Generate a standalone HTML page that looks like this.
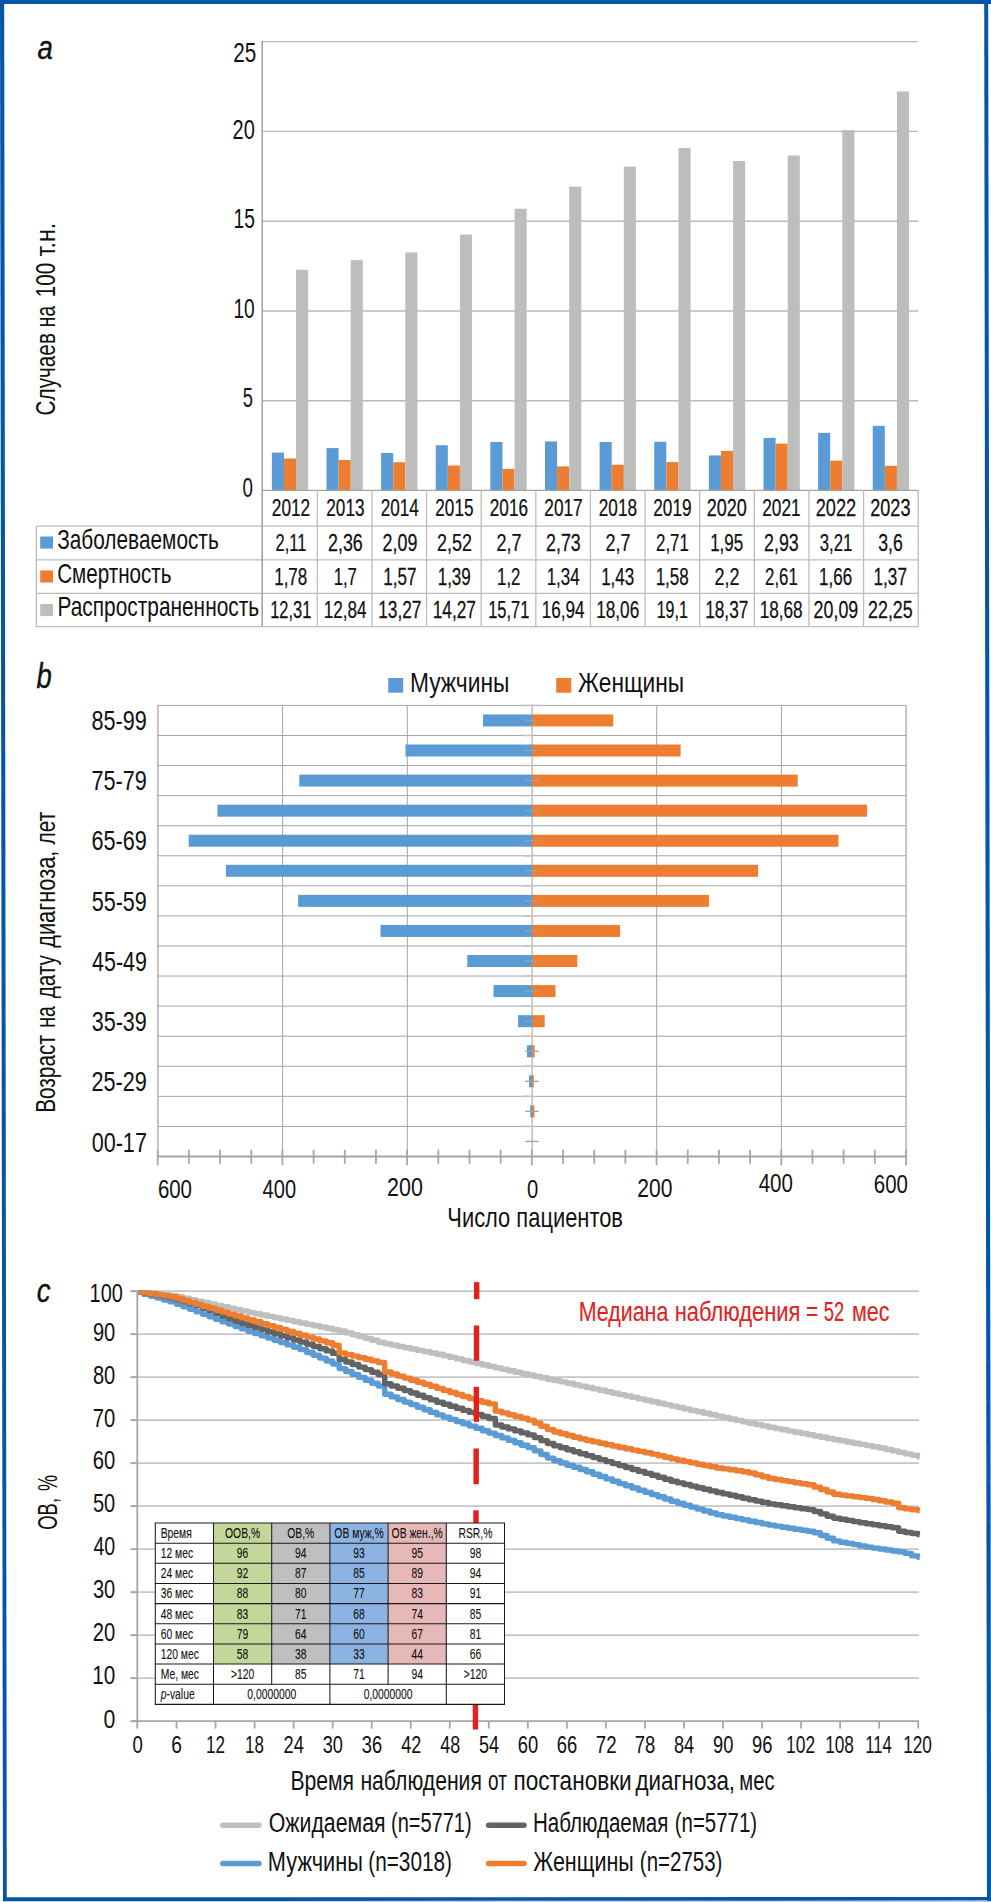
<!DOCTYPE html>
<html lang="ru"><head><meta charset="utf-8"><title>Figure</title>
<style>
html,body{margin:0;padding:0;background:#fff;}
svg{display:block;font-family:"Liberation Sans",sans-serif;}
text{font-family:"Liberation Sans",sans-serif;}
</style></head>
<body>
<svg width="991" height="1902" viewBox="0 0 991 1902">
<rect x="0" y="0" width="991" height="1902" fill="#ffffff"/>
<polygon points="0,0 991,0 991,3.9 0,4.1" fill="#0556a7"/>
<polygon points="0,0 4.2,0 6.8,1902 3.0,1902" fill="#0556a7"/>
<polygon points="984.2,0 988.2,0 991.2,1902 987.0,1902" fill="#0556a7"/>
<polygon points="3,1897.3 991,1897 991,1900.6 3,1901" fill="#0556a7"/>
<rect x="3" y="1901" width="988" height="1" fill="#c9cfdc"/>
<line x1="262.70" y1="400.80" x2="918.20" y2="400.80" stroke="#bababa" stroke-width="1.4"/>
<line x1="262.70" y1="311.00" x2="918.20" y2="311.00" stroke="#bababa" stroke-width="1.4"/>
<line x1="262.70" y1="221.20" x2="918.20" y2="221.20" stroke="#bababa" stroke-width="1.4"/>
<line x1="262.70" y1="131.40" x2="918.20" y2="131.40" stroke="#bababa" stroke-width="1.4"/>
<line x1="262.70" y1="41.60" x2="918.20" y2="41.60" stroke="#bababa" stroke-width="1.4"/>
<rect x="271.86" y="452.57" width="12.10" height="37.83" fill="#5b9bd5"/>
<rect x="283.96" y="458.48" width="12.10" height="31.92" fill="#ed7d31"/>
<rect x="296.06" y="269.68" width="12.10" height="220.72" fill="#bdbdbb"/>
<rect x="326.49" y="448.09" width="12.10" height="42.31" fill="#5b9bd5"/>
<rect x="338.59" y="459.92" width="12.10" height="30.48" fill="#ed7d31"/>
<rect x="350.69" y="260.18" width="12.10" height="230.22" fill="#bdbdbb"/>
<rect x="381.11" y="452.93" width="12.10" height="37.47" fill="#5b9bd5"/>
<rect x="393.21" y="462.25" width="12.10" height="28.15" fill="#ed7d31"/>
<rect x="405.31" y="252.47" width="12.10" height="237.93" fill="#bdbdbb"/>
<rect x="435.74" y="445.22" width="12.10" height="45.18" fill="#5b9bd5"/>
<rect x="447.84" y="465.48" width="12.10" height="24.92" fill="#ed7d31"/>
<rect x="459.94" y="234.54" width="12.10" height="255.86" fill="#bdbdbb"/>
<rect x="490.36" y="441.99" width="12.10" height="48.41" fill="#5b9bd5"/>
<rect x="502.46" y="468.88" width="12.10" height="21.52" fill="#ed7d31"/>
<rect x="514.56" y="208.72" width="12.10" height="281.68" fill="#bdbdbb"/>
<rect x="544.99" y="441.45" width="12.10" height="48.95" fill="#5b9bd5"/>
<rect x="557.09" y="466.37" width="12.10" height="24.03" fill="#ed7d31"/>
<rect x="569.19" y="186.67" width="12.10" height="303.73" fill="#bdbdbb"/>
<rect x="599.61" y="441.99" width="12.10" height="48.41" fill="#5b9bd5"/>
<rect x="611.71" y="464.76" width="12.10" height="25.64" fill="#ed7d31"/>
<rect x="623.81" y="166.58" width="12.10" height="323.82" fill="#bdbdbb"/>
<rect x="654.24" y="441.81" width="12.10" height="48.59" fill="#5b9bd5"/>
<rect x="666.34" y="462.07" width="12.10" height="28.33" fill="#ed7d31"/>
<rect x="678.44" y="147.94" width="12.10" height="342.46" fill="#bdbdbb"/>
<rect x="708.86" y="455.44" width="12.10" height="34.96" fill="#5b9bd5"/>
<rect x="720.96" y="450.95" width="12.10" height="39.45" fill="#ed7d31"/>
<rect x="733.06" y="161.03" width="12.10" height="329.37" fill="#bdbdbb"/>
<rect x="763.49" y="437.87" width="12.10" height="52.53" fill="#5b9bd5"/>
<rect x="775.59" y="443.60" width="12.10" height="46.80" fill="#ed7d31"/>
<rect x="787.69" y="155.47" width="12.10" height="334.93" fill="#bdbdbb"/>
<rect x="818.11" y="432.84" width="12.10" height="57.56" fill="#5b9bd5"/>
<rect x="830.21" y="460.64" width="12.10" height="29.76" fill="#ed7d31"/>
<rect x="842.31" y="130.19" width="12.10" height="360.21" fill="#bdbdbb"/>
<rect x="872.74" y="425.85" width="12.10" height="64.55" fill="#5b9bd5"/>
<rect x="884.84" y="465.84" width="12.10" height="24.56" fill="#ed7d31"/>
<rect x="896.94" y="91.46" width="12.10" height="398.94" fill="#bdbdbb"/>
<line x1="262.20" y1="41.00" x2="262.20" y2="490.00" stroke="#a3a3a3" stroke-width="1.6"/>
<line x1="261.70" y1="490.40" x2="918.20" y2="490.40" stroke="#a3a3a3" stroke-width="1.4"/>
<line x1="36.00" y1="526.20" x2="918.20" y2="526.20" stroke="#bcbcbc" stroke-width="1.3"/>
<line x1="36.00" y1="559.80" x2="918.20" y2="559.80" stroke="#bcbcbc" stroke-width="1.3"/>
<line x1="36.00" y1="593.40" x2="918.20" y2="593.40" stroke="#bcbcbc" stroke-width="1.3"/>
<line x1="36.00" y1="626.70" x2="918.20" y2="626.70" stroke="#bcbcbc" stroke-width="1.3"/>
<line x1="36.30" y1="526.20" x2="36.30" y2="626.70" stroke="#bcbcbc" stroke-width="1.3"/>
<line x1="262.20" y1="490.00" x2="262.20" y2="626.70" stroke="#a3a3a3" stroke-width="1.6"/>
<line x1="317.32" y1="490.00" x2="317.32" y2="626.70" stroke="#bcbcbc" stroke-width="1.3"/>
<line x1="371.95" y1="490.00" x2="371.95" y2="626.70" stroke="#bcbcbc" stroke-width="1.3"/>
<line x1="426.57" y1="490.00" x2="426.57" y2="626.70" stroke="#bcbcbc" stroke-width="1.3"/>
<line x1="481.20" y1="490.00" x2="481.20" y2="626.70" stroke="#bcbcbc" stroke-width="1.3"/>
<line x1="535.83" y1="490.00" x2="535.83" y2="626.70" stroke="#bcbcbc" stroke-width="1.3"/>
<line x1="590.45" y1="490.00" x2="590.45" y2="626.70" stroke="#bcbcbc" stroke-width="1.3"/>
<line x1="645.08" y1="490.00" x2="645.08" y2="626.70" stroke="#bcbcbc" stroke-width="1.3"/>
<line x1="699.70" y1="490.00" x2="699.70" y2="626.70" stroke="#bcbcbc" stroke-width="1.3"/>
<line x1="754.33" y1="490.00" x2="754.33" y2="626.70" stroke="#bcbcbc" stroke-width="1.3"/>
<line x1="808.95" y1="490.00" x2="808.95" y2="626.70" stroke="#bcbcbc" stroke-width="1.3"/>
<line x1="863.58" y1="490.00" x2="863.58" y2="626.70" stroke="#bcbcbc" stroke-width="1.3"/>
<line x1="918.20" y1="490.00" x2="918.20" y2="626.70" stroke="#bcbcbc" stroke-width="1.3"/>
<text transform="translate(233.27,62.10) scale(0.7662,1)" font-size="27.00" fill="#111" stroke="none">25</text>
<text transform="translate(232.60,139.00) scale(0.7407,1)" font-size="27.00" fill="#111" stroke="none">20</text>
<text transform="translate(233.46,228.00) scale(0.7110,1)" font-size="27.00" fill="#111" stroke="none">15</text>
<text transform="translate(233.47,317.90) scale(0.7074,1)" font-size="27.00" fill="#111" stroke="none">10</text>
<text transform="translate(242.87,406.80) scale(0.6784,1)" font-size="27.00" fill="#111" stroke="none">5</text>
<text transform="translate(242.55,496.50) scale(0.6944,1)" font-size="27.00" fill="#111" stroke="none">0</text>
<text transform="translate(271.82,516.00) scale(0.7342,1)" font-size="23.50" fill="#111" stroke="#111" stroke-width="0.25">2012</text>
<text transform="translate(275.59,550.80) scale(0.7000,1)" font-size="23.50" fill="#111" stroke="#111" stroke-width="0.25">2,11</text>
<text transform="translate(274.17,584.80) scale(0.7240,1)" font-size="23.50" fill="#111" stroke="#111" stroke-width="0.25">1,78</text>
<text transform="translate(270.24,618.30) scale(0.6989,1)" font-size="23.50" fill="#111" stroke="#111" stroke-width="0.25">12,31</text>
<text transform="translate(326.32,516.00) scale(0.7308,1)" font-size="23.50" fill="#111" stroke="#111" stroke-width="0.25">2013</text>
<text transform="translate(328.08,550.80) scale(0.7588,1)" font-size="23.50" fill="#111" stroke="#111" stroke-width="0.25">2,36</text>
<text transform="translate(333.63,584.80) scale(0.7146,1)" font-size="23.50" fill="#111" stroke="#111" stroke-width="0.25">1,7</text>
<text transform="translate(323.71,618.30) scale(0.7290,1)" font-size="23.50" fill="#111" stroke="#111" stroke-width="0.25">12,84</text>
<text transform="translate(380.81,516.00) scale(0.7274,1)" font-size="23.50" fill="#111" stroke="#111" stroke-width="0.25">2014</text>
<text transform="translate(382.57,550.80) scale(0.7608,1)" font-size="23.50" fill="#111" stroke="#111" stroke-width="0.25">2,09</text>
<text transform="translate(383.15,584.80) scale(0.7280,1)" font-size="23.50" fill="#111" stroke="#111" stroke-width="0.25">1,57</text>
<text transform="translate(378.19,618.30) scale(0.7352,1)" font-size="23.50" fill="#111" stroke="#111" stroke-width="0.25">13,27</text>
<text transform="translate(435.31,516.00) scale(0.7308,1)" font-size="23.50" fill="#111" stroke="#111" stroke-width="0.25">2015</text>
<text transform="translate(437.06,550.80) scale(0.7629,1)" font-size="23.50" fill="#111" stroke="#111" stroke-width="0.25">2,52</text>
<text transform="translate(437.65,584.80) scale(0.7260,1)" font-size="23.50" fill="#111" stroke="#111" stroke-width="0.25">1,39</text>
<text transform="translate(432.69,618.30) scale(0.7352,1)" font-size="23.50" fill="#111" stroke="#111" stroke-width="0.25">14,27</text>
<text transform="translate(489.80,516.00) scale(0.7308,1)" font-size="23.50" fill="#111" stroke="#111" stroke-width="0.25">2016</text>
<text transform="translate(496.50,550.80) scale(0.7647,1)" font-size="23.50" fill="#111" stroke="#111" stroke-width="0.25">2,7</text>
<text transform="translate(497.11,584.80) scale(0.7146,1)" font-size="23.50" fill="#111" stroke="#111" stroke-width="0.25">1,2</text>
<text transform="translate(488.22,618.30) scale(0.6989,1)" font-size="23.50" fill="#111" stroke="#111" stroke-width="0.25">15,71</text>
<text transform="translate(544.29,516.00) scale(0.7342,1)" font-size="23.50" fill="#111" stroke="#111" stroke-width="0.25">2017</text>
<text transform="translate(546.06,550.80) scale(0.7588,1)" font-size="23.50" fill="#111" stroke="#111" stroke-width="0.25">2,73</text>
<text transform="translate(546.65,584.80) scale(0.7201,1)" font-size="23.50" fill="#111" stroke="#111" stroke-width="0.25">1,34</text>
<text transform="translate(541.69,618.30) scale(0.7290,1)" font-size="23.50" fill="#111" stroke="#111" stroke-width="0.25">16,94</text>
<text transform="translate(598.79,516.00) scale(0.7308,1)" font-size="23.50" fill="#111" stroke="#111" stroke-width="0.25">2018</text>
<text transform="translate(605.49,550.80) scale(0.7647,1)" font-size="23.50" fill="#111" stroke="#111" stroke-width="0.25">2,7</text>
<text transform="translate(601.14,584.80) scale(0.7240,1)" font-size="23.50" fill="#111" stroke="#111" stroke-width="0.25">1,43</text>
<text transform="translate(596.18,618.30) scale(0.7321,1)" font-size="23.50" fill="#111" stroke="#111" stroke-width="0.25">18,06</text>
<text transform="translate(653.28,516.00) scale(0.7325,1)" font-size="23.50" fill="#111" stroke="#111" stroke-width="0.25">2019</text>
<text transform="translate(656.07,550.80) scale(0.7162,1)" font-size="23.50" fill="#111" stroke="#111" stroke-width="0.25">2,71</text>
<text transform="translate(655.63,584.80) scale(0.7240,1)" font-size="23.50" fill="#111" stroke="#111" stroke-width="0.25">1,58</text>
<text transform="translate(656.68,618.30) scale(0.6808,1)" font-size="23.50" fill="#111" stroke="#111" stroke-width="0.25">19,1</text>
<text transform="translate(706.77,516.00) scale(0.7677,1)" font-size="23.50" fill="#111" stroke="#111" stroke-width="0.25">2020</text>
<text transform="translate(710.13,550.80) scale(0.7240,1)" font-size="23.50" fill="#111" stroke="#111" stroke-width="0.25">1,95</text>
<text transform="translate(714.48,584.80) scale(0.7647,1)" font-size="23.50" fill="#111" stroke="#111" stroke-width="0.25">2,2</text>
<text transform="translate(705.16,618.30) scale(0.7352,1)" font-size="23.50" fill="#111" stroke="#111" stroke-width="0.25">18,37</text>
<text transform="translate(762.27,516.00) scale(0.7325,1)" font-size="23.50" fill="#111" stroke="#111" stroke-width="0.25">2021</text>
<text transform="translate(764.04,550.80) scale(0.7588,1)" font-size="23.50" fill="#111" stroke="#111" stroke-width="0.25">2,93</text>
<text transform="translate(765.06,584.80) scale(0.7162,1)" font-size="23.50" fill="#111" stroke="#111" stroke-width="0.25">2,61</text>
<text transform="translate(759.66,618.30) scale(0.7321,1)" font-size="23.50" fill="#111" stroke="#111" stroke-width="0.25">18,68</text>
<text transform="translate(815.75,516.00) scale(0.7731,1)" font-size="23.50" fill="#111" stroke="#111" stroke-width="0.25">2022</text>
<text transform="translate(819.72,550.80) scale(0.7124,1)" font-size="23.50" fill="#111" stroke="#111" stroke-width="0.25">3,21</text>
<text transform="translate(819.12,584.80) scale(0.7240,1)" font-size="23.50" fill="#111" stroke="#111" stroke-width="0.25">1,66</text>
<text transform="translate(813.58,618.30) scale(0.7603,1)" font-size="23.50" fill="#111" stroke="#111" stroke-width="0.25">20,09</text>
<text transform="translate(870.25,516.00) scale(0.7695,1)" font-size="23.50" fill="#111" stroke="#111" stroke-width="0.25">2023</text>
<text transform="translate(878.16,550.80) scale(0.7531,1)" font-size="23.50" fill="#111" stroke="#111" stroke-width="0.25">3,6</text>
<text transform="translate(873.61,584.80) scale(0.7280,1)" font-size="23.50" fill="#111" stroke="#111" stroke-width="0.25">1,37</text>
<text transform="translate(868.08,618.30) scale(0.7587,1)" font-size="23.50" fill="#111" stroke="#111" stroke-width="0.25">22,25</text>
<rect x="40.20" y="536.50" width="12.80" height="12.10" fill="#5b9bd5"/>
<rect x="40.20" y="570.40" width="12.80" height="12.10" fill="#ed7d31"/>
<rect x="40.20" y="604.00" width="12.80" height="12.10" fill="#bdbdbb"/>
<text transform="translate(57.17,548.80) scale(0.7654,1)" font-size="27.20" fill="#111" stroke="none">Заболеваемость</text>
<text transform="translate(57.17,582.70) scale(0.7582,1)" font-size="27.20" fill="#111" stroke="none">Смертность</text>
<text transform="translate(57.53,616.30) scale(0.7673,1)" font-size="27.20" fill="#111" stroke="none">Распространенность</text>
<text transform="translate(55.0,414.4) rotate(-90)" y="0.00" font-size="27.20" fill="#111" stroke="none"><tspan x="-1.04" textLength="82.37" lengthAdjust="spacingAndGlyphs">Случаев</tspan> <tspan x="87.27" textLength="21.10" lengthAdjust="spacingAndGlyphs">на</tspan> <tspan x="117.16" textLength="34.34" lengthAdjust="spacingAndGlyphs">100</tspan> <tspan x="157.85" textLength="33.86" lengthAdjust="spacingAndGlyphs">т.н.</tspan></text>
<text transform="translate(37.45,59.00) scale(0.8118,1)" font-size="34.00" fill="#111" stroke="#111" stroke-width="0.4" font-style="italic">a</text>
<line x1="157.70" y1="705.40" x2="906.00" y2="705.40" stroke="#a4a4a4" stroke-width="1.0"/>
<line x1="157.70" y1="735.47" x2="906.00" y2="735.47" stroke="#a4a4a4" stroke-width="1.0"/>
<line x1="157.70" y1="765.55" x2="906.00" y2="765.55" stroke="#a4a4a4" stroke-width="1.0"/>
<line x1="157.70" y1="795.62" x2="906.00" y2="795.62" stroke="#a4a4a4" stroke-width="1.0"/>
<line x1="157.70" y1="825.69" x2="906.00" y2="825.69" stroke="#a4a4a4" stroke-width="1.0"/>
<line x1="157.70" y1="855.77" x2="906.00" y2="855.77" stroke="#a4a4a4" stroke-width="1.0"/>
<line x1="157.70" y1="885.84" x2="906.00" y2="885.84" stroke="#a4a4a4" stroke-width="1.0"/>
<line x1="157.70" y1="915.91" x2="906.00" y2="915.91" stroke="#a4a4a4" stroke-width="1.0"/>
<line x1="157.70" y1="945.99" x2="906.00" y2="945.99" stroke="#a4a4a4" stroke-width="1.0"/>
<line x1="157.70" y1="976.06" x2="906.00" y2="976.06" stroke="#a4a4a4" stroke-width="1.0"/>
<line x1="157.70" y1="1006.13" x2="906.00" y2="1006.13" stroke="#a4a4a4" stroke-width="1.0"/>
<line x1="157.70" y1="1036.21" x2="906.00" y2="1036.21" stroke="#a4a4a4" stroke-width="1.0"/>
<line x1="157.70" y1="1066.28" x2="906.00" y2="1066.28" stroke="#a4a4a4" stroke-width="1.0"/>
<line x1="157.70" y1="1096.35" x2="906.00" y2="1096.35" stroke="#a4a4a4" stroke-width="1.0"/>
<line x1="157.70" y1="1126.43" x2="906.00" y2="1126.43" stroke="#a4a4a4" stroke-width="1.0"/>
<line x1="157.90" y1="705.40" x2="157.90" y2="1156.50" stroke="#a4a4a4" stroke-width="1.2"/>
<line x1="282.60" y1="705.40" x2="282.60" y2="1156.50" stroke="#a4a4a4" stroke-width="1.0"/>
<line x1="407.30" y1="705.40" x2="407.30" y2="1156.50" stroke="#a4a4a4" stroke-width="1.0"/>
<line x1="656.70" y1="705.40" x2="656.70" y2="1156.50" stroke="#a4a4a4" stroke-width="1.0"/>
<line x1="781.40" y1="705.40" x2="781.40" y2="1156.50" stroke="#a4a4a4" stroke-width="1.0"/>
<line x1="906.10" y1="705.40" x2="906.10" y2="1156.50" stroke="#a4a4a4" stroke-width="1.2"/>
<line x1="532.20" y1="705.40" x2="532.20" y2="1156.50" stroke="#c2c2c2" stroke-width="1.6"/>
<rect x="483.00" y="714.44" width="49.00" height="12.00" fill="#5b9bd5"/>
<rect x="532.00" y="714.44" width="81.20" height="12.00" fill="#ed7d31"/>
<rect x="405.50" y="744.51" width="126.50" height="12.00" fill="#5b9bd5"/>
<rect x="532.00" y="744.51" width="148.60" height="12.00" fill="#ed7d31"/>
<rect x="299.30" y="774.58" width="232.70" height="12.00" fill="#5b9bd5"/>
<rect x="532.00" y="774.58" width="265.70" height="12.00" fill="#ed7d31"/>
<rect x="217.40" y="804.66" width="314.60" height="12.00" fill="#5b9bd5"/>
<rect x="532.00" y="804.66" width="335.10" height="12.00" fill="#ed7d31"/>
<rect x="188.70" y="834.73" width="343.30" height="12.00" fill="#5b9bd5"/>
<rect x="532.00" y="834.73" width="306.50" height="12.00" fill="#ed7d31"/>
<rect x="225.90" y="864.80" width="306.10" height="12.00" fill="#5b9bd5"/>
<rect x="532.00" y="864.80" width="226.10" height="12.00" fill="#ed7d31"/>
<rect x="298.10" y="894.88" width="233.90" height="12.00" fill="#5b9bd5"/>
<rect x="532.00" y="894.88" width="176.90" height="12.00" fill="#ed7d31"/>
<rect x="380.50" y="924.95" width="151.50" height="12.00" fill="#5b9bd5"/>
<rect x="532.00" y="924.95" width="88.10" height="12.00" fill="#ed7d31"/>
<rect x="467.30" y="955.02" width="64.70" height="12.00" fill="#5b9bd5"/>
<rect x="532.00" y="955.02" width="45.30" height="12.00" fill="#ed7d31"/>
<rect x="493.50" y="985.10" width="38.50" height="12.00" fill="#5b9bd5"/>
<rect x="532.00" y="985.10" width="23.50" height="12.00" fill="#ed7d31"/>
<rect x="518.10" y="1015.17" width="13.90" height="12.00" fill="#5b9bd5"/>
<rect x="532.00" y="1015.17" width="12.70" height="12.00" fill="#ed7d31"/>
<rect x="526.90" y="1045.24" width="5.10" height="12.00" fill="#5b9bd5"/>
<rect x="532.00" y="1045.24" width="2.60" height="12.00" fill="#ed7d31"/>
<rect x="529.10" y="1075.32" width="2.90" height="12.00" fill="#5b9bd5"/>
<rect x="532.00" y="1075.32" width="1.80" height="12.00" fill="#ed7d31"/>
<rect x="530.30" y="1105.39" width="1.70" height="12.00" fill="#5b9bd5"/>
<rect x="532.00" y="1105.39" width="2.40" height="12.00" fill="#ed7d31"/>
<line x1="522.70" y1="705.40" x2="539.00" y2="705.40" stroke="#c4c4c4" stroke-width="1.6"/>
<line x1="525.10" y1="720.44" x2="538.70" y2="720.44" stroke="#a2a2a2" stroke-width="1.3"/>
<line x1="522.70" y1="735.47" x2="532.00" y2="735.47" stroke="#c4c4c4" stroke-width="1.6"/>
<line x1="525.10" y1="750.51" x2="538.70" y2="750.51" stroke="#a2a2a2" stroke-width="1.3"/>
<line x1="522.70" y1="765.55" x2="532.00" y2="765.55" stroke="#c4c4c4" stroke-width="1.6"/>
<line x1="525.10" y1="780.58" x2="538.70" y2="780.58" stroke="#a2a2a2" stroke-width="1.3"/>
<line x1="522.70" y1="795.62" x2="532.00" y2="795.62" stroke="#c4c4c4" stroke-width="1.6"/>
<line x1="525.10" y1="810.66" x2="538.70" y2="810.66" stroke="#a2a2a2" stroke-width="1.3"/>
<line x1="522.70" y1="825.69" x2="532.00" y2="825.69" stroke="#c4c4c4" stroke-width="1.6"/>
<line x1="525.10" y1="840.73" x2="538.70" y2="840.73" stroke="#a2a2a2" stroke-width="1.3"/>
<line x1="522.70" y1="855.77" x2="532.00" y2="855.77" stroke="#c4c4c4" stroke-width="1.6"/>
<line x1="525.10" y1="870.80" x2="538.70" y2="870.80" stroke="#a2a2a2" stroke-width="1.3"/>
<line x1="522.70" y1="885.84" x2="532.00" y2="885.84" stroke="#c4c4c4" stroke-width="1.6"/>
<line x1="525.10" y1="900.88" x2="538.70" y2="900.88" stroke="#a2a2a2" stroke-width="1.3"/>
<line x1="522.70" y1="915.91" x2="532.00" y2="915.91" stroke="#c4c4c4" stroke-width="1.6"/>
<line x1="525.10" y1="930.95" x2="538.70" y2="930.95" stroke="#a2a2a2" stroke-width="1.3"/>
<line x1="522.70" y1="945.99" x2="532.00" y2="945.99" stroke="#c4c4c4" stroke-width="1.6"/>
<line x1="525.10" y1="961.02" x2="538.70" y2="961.02" stroke="#a2a2a2" stroke-width="1.3"/>
<line x1="522.70" y1="976.06" x2="532.00" y2="976.06" stroke="#c4c4c4" stroke-width="1.6"/>
<line x1="525.10" y1="991.10" x2="538.70" y2="991.10" stroke="#a2a2a2" stroke-width="1.3"/>
<line x1="522.70" y1="1006.13" x2="532.00" y2="1006.13" stroke="#c4c4c4" stroke-width="1.6"/>
<line x1="525.10" y1="1021.17" x2="538.70" y2="1021.17" stroke="#a2a2a2" stroke-width="1.3"/>
<line x1="522.70" y1="1036.21" x2="532.00" y2="1036.21" stroke="#c4c4c4" stroke-width="1.6"/>
<line x1="525.10" y1="1051.24" x2="538.70" y2="1051.24" stroke="#a2a2a2" stroke-width="1.3"/>
<line x1="522.70" y1="1066.28" x2="532.00" y2="1066.28" stroke="#c4c4c4" stroke-width="1.6"/>
<line x1="525.10" y1="1081.32" x2="538.70" y2="1081.32" stroke="#a2a2a2" stroke-width="1.3"/>
<line x1="522.70" y1="1096.35" x2="532.00" y2="1096.35" stroke="#c4c4c4" stroke-width="1.6"/>
<line x1="525.10" y1="1111.39" x2="538.70" y2="1111.39" stroke="#a2a2a2" stroke-width="1.3"/>
<line x1="522.70" y1="1126.43" x2="532.00" y2="1126.43" stroke="#c4c4c4" stroke-width="1.6"/>
<line x1="525.10" y1="1141.46" x2="538.70" y2="1141.46" stroke="#a2a2a2" stroke-width="1.3"/>
<line x1="157.20" y1="1156.50" x2="906.50" y2="1156.50" stroke="#a6a6a6" stroke-width="2"/>
<line x1="157.70" y1="1149.70" x2="157.70" y2="1165.30" stroke="#a6a6a6" stroke-width="1.8"/>
<line x1="188.88" y1="1149.70" x2="188.88" y2="1163.70" stroke="#a6a6a6" stroke-width="1.8"/>
<line x1="220.06" y1="1149.70" x2="220.06" y2="1163.70" stroke="#a6a6a6" stroke-width="1.8"/>
<line x1="251.24" y1="1149.70" x2="251.24" y2="1163.70" stroke="#a6a6a6" stroke-width="1.8"/>
<line x1="282.42" y1="1149.70" x2="282.42" y2="1165.30" stroke="#a6a6a6" stroke-width="1.8"/>
<line x1="313.60" y1="1149.70" x2="313.60" y2="1163.70" stroke="#a6a6a6" stroke-width="1.8"/>
<line x1="344.77" y1="1149.70" x2="344.77" y2="1163.70" stroke="#a6a6a6" stroke-width="1.8"/>
<line x1="375.95" y1="1149.70" x2="375.95" y2="1163.70" stroke="#a6a6a6" stroke-width="1.8"/>
<line x1="407.13" y1="1149.70" x2="407.13" y2="1165.30" stroke="#a6a6a6" stroke-width="1.8"/>
<line x1="438.31" y1="1149.70" x2="438.31" y2="1163.70" stroke="#a6a6a6" stroke-width="1.8"/>
<line x1="469.49" y1="1149.70" x2="469.49" y2="1163.70" stroke="#a6a6a6" stroke-width="1.8"/>
<line x1="500.67" y1="1149.70" x2="500.67" y2="1163.70" stroke="#a6a6a6" stroke-width="1.8"/>
<line x1="531.85" y1="1149.70" x2="531.85" y2="1165.30" stroke="#a6a6a6" stroke-width="1.8"/>
<line x1="563.03" y1="1149.70" x2="563.03" y2="1163.70" stroke="#a6a6a6" stroke-width="1.8"/>
<line x1="594.21" y1="1149.70" x2="594.21" y2="1163.70" stroke="#a6a6a6" stroke-width="1.8"/>
<line x1="625.39" y1="1149.70" x2="625.39" y2="1163.70" stroke="#a6a6a6" stroke-width="1.8"/>
<line x1="656.57" y1="1149.70" x2="656.57" y2="1165.30" stroke="#a6a6a6" stroke-width="1.8"/>
<line x1="687.75" y1="1149.70" x2="687.75" y2="1163.70" stroke="#a6a6a6" stroke-width="1.8"/>
<line x1="718.92" y1="1149.70" x2="718.92" y2="1163.70" stroke="#a6a6a6" stroke-width="1.8"/>
<line x1="750.10" y1="1149.70" x2="750.10" y2="1163.70" stroke="#a6a6a6" stroke-width="1.8"/>
<line x1="781.28" y1="1149.70" x2="781.28" y2="1165.30" stroke="#a6a6a6" stroke-width="1.8"/>
<line x1="812.46" y1="1149.70" x2="812.46" y2="1163.70" stroke="#a6a6a6" stroke-width="1.8"/>
<line x1="843.64" y1="1149.70" x2="843.64" y2="1163.70" stroke="#a6a6a6" stroke-width="1.8"/>
<line x1="874.82" y1="1149.70" x2="874.82" y2="1163.70" stroke="#a6a6a6" stroke-width="1.8"/>
<line x1="906.00" y1="1149.70" x2="906.00" y2="1165.30" stroke="#a6a6a6" stroke-width="1.8"/>
<text transform="translate(91.53,730.00) scale(0.8068,1)" font-size="26.80" fill="#111" stroke="none">85-99</text>
<text transform="translate(91.42,790.20) scale(0.8085,1)" font-size="26.80" fill="#111" stroke="none">75-79</text>
<text transform="translate(91.42,849.50) scale(0.8085,1)" font-size="26.80" fill="#111" stroke="none">65-69</text>
<text transform="translate(91.64,910.50) scale(0.8052,1)" font-size="26.80" fill="#111" stroke="none">55-59</text>
<text transform="translate(92.07,970.90) scale(0.7987,1)" font-size="26.80" fill="#111" stroke="none">45-49</text>
<text transform="translate(91.64,1030.90) scale(0.8052,1)" font-size="26.80" fill="#111" stroke="none">35-39</text>
<text transform="translate(91.42,1091.00) scale(0.8085,1)" font-size="26.80" fill="#111" stroke="none">25-29</text>
<text transform="translate(91.64,1151.90) scale(0.8068,1)" font-size="26.80" fill="#111" stroke="none">00-17</text>
<text transform="translate(157.88,1197.50) scale(0.7803,1)" font-size="26.20" fill="#111" stroke="none">600</text>
<text transform="translate(262.60,1197.50) scale(0.7657,1)" font-size="26.20" fill="#111" stroke="none">400</text>
<text transform="translate(387.03,1196.40) scale(0.8189,1)" font-size="26.20" fill="#111" stroke="none">200</text>
<text transform="translate(527.09,1198.40) scale(0.7713,1)" font-size="26.20" fill="#111" stroke="none">0</text>
<text transform="translate(637.25,1197.40) scale(0.8044,1)" font-size="26.20" fill="#111" stroke="none">200</text>
<text transform="translate(758.69,1192.40) scale(0.7823,1)" font-size="26.20" fill="#111" stroke="none">400</text>
<text transform="translate(873.78,1192.80) scale(0.7803,1)" font-size="26.20" fill="#111" stroke="none">600</text>
<text transform="translate(447.35,1226.70) scale(0.7849,1)" font-size="27.90" fill="#111" stroke="none">Число пациентов</text>
<text transform="translate(55.2,1111.2) rotate(-90)" y="0.00" font-size="27.30" fill="#111" stroke="none"><tspan x="-1.66" textLength="77.79" lengthAdjust="spacingAndGlyphs">Возраст</tspan> <tspan x="83.53" textLength="21.63" lengthAdjust="spacingAndGlyphs">на</tspan> <tspan x="112.99" textLength="43.15" lengthAdjust="spacingAndGlyphs">дату</tspan> <tspan x="163.38" textLength="97.23" lengthAdjust="spacingAndGlyphs">диагноза,</tspan> <tspan x="266.70" textLength="32.81" lengthAdjust="spacingAndGlyphs">лет</tspan></text>
<rect x="388.20" y="678.00" width="15.00" height="14.70" fill="#5b9bd5"/>
<rect x="556.20" y="678.00" width="15.10" height="14.70" fill="#ed7d31"/>
<text transform="translate(409.98,692.40) scale(0.8261,1)" font-size="27.60" fill="#111" stroke="none">Мужчины</text>
<text transform="translate(578.06,692.40) scale(0.8233,1)" font-size="27.60" fill="#111" stroke="none">Женщины</text>
<text transform="translate(36.59,688.10) scale(0.7733,1)" font-size="35.50" fill="#111" stroke="#111" stroke-width="0.4" font-style="italic">b</text>
<line x1="131.20" y1="1678.20" x2="919.00" y2="1678.20" stroke="#c6c6c6" stroke-width="1.7"/>
<line x1="131.20" y1="1635.20" x2="919.00" y2="1635.20" stroke="#c6c6c6" stroke-width="1.7"/>
<line x1="131.20" y1="1592.20" x2="919.00" y2="1592.20" stroke="#c6c6c6" stroke-width="1.7"/>
<line x1="131.20" y1="1549.20" x2="919.00" y2="1549.20" stroke="#c6c6c6" stroke-width="1.7"/>
<line x1="131.20" y1="1506.20" x2="919.00" y2="1506.20" stroke="#c6c6c6" stroke-width="1.7"/>
<line x1="131.20" y1="1463.20" x2="919.00" y2="1463.20" stroke="#c6c6c6" stroke-width="1.7"/>
<line x1="131.20" y1="1420.20" x2="919.00" y2="1420.20" stroke="#c6c6c6" stroke-width="1.7"/>
<line x1="131.20" y1="1377.20" x2="919.00" y2="1377.20" stroke="#c6c6c6" stroke-width="1.7"/>
<line x1="131.20" y1="1334.20" x2="919.00" y2="1334.20" stroke="#c6c6c6" stroke-width="1.7"/>
<line x1="131.20" y1="1291.20" x2="919.00" y2="1291.20" stroke="#c6c6c6" stroke-width="1.7"/>
<clipPath id="cc"><rect x="137.3" y="1290.6000000000001" width="782.9000000000001" height="440"/></clipPath>
<path d="M137.5,1291.6H144.0V1292.5H150.5V1293.2H157.0V1294.0H163.5V1294.7H170.0V1295.4H176.5V1296.7H183.0V1298.2H189.5V1299.6H196.1V1301.1H202.6V1302.5H209.1V1304.0H215.6V1305.4H222.1V1306.8H228.6V1308.3H235.1V1309.7H241.6V1311.0H248.1V1312.4H254.6V1313.7H261.1V1315.0H267.6V1316.4H274.1V1317.7H280.6V1319.0H287.1V1320.4H293.6V1321.7H300.1V1323.0H306.7V1324.4H313.2V1325.7H319.7V1327.0H326.2V1328.3H332.7V1329.7H339.2V1331.0H345.7V1332.9H352.2V1334.7H358.7V1336.6H365.2V1338.5H371.7V1340.3H378.2V1342.2H384.7V1343.8H391.2V1345.1H397.7V1346.4H404.2V1347.7H410.7V1349.0H417.3V1350.4H423.8V1351.7H430.3V1353.0H436.8V1354.3H443.3V1355.9H449.8V1357.4H456.3V1358.9H462.8V1360.5H469.3V1362.0H475.8V1363.5H482.3V1365.0H488.8V1366.4H495.3V1367.9H501.8V1369.3H508.3V1370.7H514.8V1372.2H521.3V1373.6H527.9V1375.0H534.4V1376.4H540.9V1377.8H547.4V1379.2H553.9V1380.6H560.4V1381.9H566.9V1383.3H573.4V1384.7H579.9V1386.1H586.4V1387.5H592.9V1388.9H599.4V1390.3H605.9V1391.7H612.4V1393.2H618.9V1394.6H625.4V1396.0H631.9V1397.4H638.4V1398.9H645.0V1400.3H651.5V1401.7H658.0V1403.2H664.5V1404.6H671.0V1406.1H677.5V1407.5H684.0V1408.9H690.5V1410.4H697.0V1411.8H703.5V1413.2H710.0V1414.7H716.5V1416.1H723.0V1417.5H729.5V1419.0H736.0V1420.4H742.5V1421.8H749.0V1423.2H755.6V1424.5H762.1V1425.9H768.6V1427.3H775.1V1428.6H781.6V1429.8H788.1V1431.1H794.6V1432.3H801.1V1433.5H807.6V1434.8H814.1V1436.0H820.6V1437.3H827.1V1438.5H833.6V1439.7H840.1V1440.8H846.6V1442.0H853.1V1443.2H859.6V1444.4H866.2V1445.6H872.7V1446.7H879.2V1448.0H885.7V1449.5H892.2V1450.9H898.7V1452.4H905.2V1453.9H911.7V1455.3H918.2V1456.8H919.6" fill="none" stroke="#bfbfbd" stroke-width="5.4" stroke-linejoin="round" clip-path="url(#cc)"/>
<path d="M137.5,1292.2H144.0V1294.4H150.5V1296.3H157.0V1298.1H163.5V1300.0H170.0V1301.9H176.5V1304.3H183.0V1306.7H189.5V1309.2H196.1V1311.7H202.6V1314.2H209.1V1316.7H215.6V1319.2H222.1V1321.7H228.6V1324.1H235.1V1326.6H241.6V1328.9H248.1V1331.2H254.6V1333.5H261.1V1335.8H267.6V1338.1H274.1V1340.3H280.6V1342.6H287.1V1344.9H293.6V1347.2H300.1V1349.6H306.7V1352.5H313.2V1355.3H319.7V1358.1H326.2V1361.0H332.7V1364.0H339.2V1368.6H345.7V1371.5H352.2V1374.4H358.7V1377.4H365.2V1380.3H371.7V1383.2H378.2V1386.1H384.7V1394.3H391.2V1396.9H397.7V1399.5H404.2V1402.1H410.7V1404.6H417.3V1407.2H423.8V1409.8H430.3V1412.4H436.8V1414.9H443.3V1417.1H449.8V1419.4H456.3V1421.6H462.8V1423.8H469.3V1426.1H475.8V1428.3H482.3V1430.7H488.8V1433.1H495.3V1435.5H501.8V1437.9H508.3V1440.4H514.8V1442.8H521.3V1445.2H527.9V1447.6H534.4V1450.9H540.9V1454.5H547.4V1458.1H553.9V1460.8H560.4V1463.0H566.9V1465.2H573.4V1467.3H579.9V1469.5H586.4V1471.8H592.9V1474.2H599.4V1476.5H605.9V1478.9H612.4V1481.2H618.9V1483.6H625.4V1485.8H631.9V1488.0H638.4V1490.2H645.0V1492.4H651.5V1494.6H658.0V1496.8H664.5V1499.0H671.0V1501.3H677.5V1503.2H684.0V1505.2H690.5V1507.1H697.0V1509.1H703.5V1511.0H710.0V1513.0H716.5V1514.7H723.0V1516.0H729.5V1517.3H736.0V1518.6H742.5V1519.9H749.0V1521.2H755.6V1522.5H762.1V1523.9H768.6V1525.1H775.1V1526.1H781.6V1527.2H788.1V1528.2H794.6V1529.2H801.1V1530.2H807.6V1531.3H814.1V1532.8H820.6V1535.5H827.1V1538.3H833.6V1540.9H840.1V1542.2H846.6V1543.4H853.1V1544.6H859.6V1545.9H866.2V1547.1H872.7V1548.1H879.2V1549.0H885.7V1550.0H892.2V1551.0H898.7V1551.9H905.2V1553.4H911.7V1555.9H918.2V1557.2H919.6" fill="none" stroke="#5b9bd5" stroke-width="5.4" stroke-linejoin="round" clip-path="url(#cc)"/>
<path d="M137.5,1291.9H144.0V1293.2H150.5V1294.3H157.0V1295.5H163.5V1296.6H170.0V1297.8H176.5V1299.6H183.0V1301.6H189.5V1303.6H196.1V1305.6H202.6V1308.0H209.1V1310.6H215.6V1313.3H222.1V1316.0H228.6V1318.7H235.1V1321.3H241.6V1323.4H248.1V1325.5H254.6V1327.5H261.1V1329.6H267.6V1331.7H274.1V1333.7H280.6V1335.8H287.1V1337.9H293.6V1340.0H300.1V1342.1H306.7V1344.3H313.2V1346.5H319.7V1348.7H326.2V1350.9H332.7V1353.4H339.2V1359.4H345.7V1362.0H352.2V1364.5H358.7V1367.1H365.2V1369.6H371.7V1372.2H378.2V1374.7H384.7V1383.7H391.2V1386.0H397.7V1388.3H404.2V1390.6H410.7V1393.0H417.3V1395.3H423.8V1397.6H430.3V1399.9H436.8V1402.2H443.3V1404.2H449.8V1406.3H456.3V1408.3H462.8V1410.4H469.3V1412.4H475.8V1414.5H482.3V1416.5H488.8V1418.5H495.3V1425.0H501.8V1427.0H508.3V1428.9H514.8V1430.9H521.3V1432.9H527.9V1434.9H534.4V1437.6H540.9V1440.6H547.4V1443.5H553.9V1445.9H560.4V1447.8H566.9V1449.8H573.4V1451.7H579.9V1453.7H586.4V1455.6H592.9V1457.6H599.4V1459.6H605.9V1461.6H612.4V1463.6H618.9V1465.6H625.4V1467.5H631.9V1469.5H638.4V1471.4H645.0V1473.4H651.5V1475.3H658.0V1477.3H664.5V1479.2H671.0V1481.2H677.5V1482.9H684.0V1484.5H690.5V1486.1H697.0V1487.7H703.5V1489.3H710.0V1490.9H716.5V1492.5H723.0V1493.9H729.5V1495.3H736.0V1496.8H742.5V1498.2H749.0V1499.7H755.6V1501.1H762.1V1502.5H768.6V1503.9H775.1V1504.8H781.6V1505.8H788.1V1506.8H794.6V1507.7H801.1V1508.7H807.6V1509.6H814.1V1511.5H820.6V1513.9H827.1V1516.3H833.6V1518.2H840.1V1519.3H846.6V1520.4H853.1V1521.6H859.6V1522.7H866.2V1523.8H872.7V1524.8H879.2V1525.8H885.7V1526.8H892.2V1527.8H898.7V1531.2H905.2V1532.5H911.7V1533.5H918.2V1534.6H919.6" fill="none" stroke="#636363" stroke-width="5.4" stroke-linejoin="round" clip-path="url(#cc)"/>
<path d="M137.5,1291.8H144.0V1292.9H150.5V1293.9H157.0V1294.9H163.5V1295.8H170.0V1296.8H176.5V1298.5H183.0V1300.5H189.5V1302.4H196.1V1304.4H202.6V1306.3H209.1V1308.3H215.6V1310.2H222.1V1312.1H228.6V1314.1H235.1V1316.0H241.6V1317.9H248.1V1319.9H254.6V1321.8H261.1V1323.7H267.6V1325.6H274.1V1327.5H280.6V1329.4H287.1V1331.4H293.6V1333.3H300.1V1335.2H306.7V1337.1H313.2V1339.0H319.7V1340.9H326.2V1342.8H332.7V1345.2H339.2V1352.9H345.7V1354.5H352.2V1356.1H358.7V1357.7H365.2V1359.3H371.7V1360.9H378.2V1362.5H384.7V1372.0H391.2V1374.0H397.7V1376.1H404.2V1378.1H410.7V1380.2H417.3V1382.2H423.8V1384.3H430.3V1386.3H436.8V1388.4H443.3V1390.4H449.8V1392.5H456.3V1394.5H462.8V1396.6H469.3V1398.6H475.8V1400.7H482.3V1402.3H488.8V1403.9H495.3V1411.1H501.8V1412.9H508.3V1414.7H514.8V1416.5H521.3V1418.3H527.9V1420.1H534.4V1423.1H540.9V1426.3H547.4V1429.6H553.9V1432.0H560.4V1433.7H566.9V1435.5H573.4V1437.2H579.9V1438.9H586.4V1440.5H592.9V1441.9H599.4V1443.3H605.9V1444.7H612.4V1446.1H618.9V1447.5H625.4V1448.8H631.9V1450.1H638.4V1451.4H645.0V1452.7H651.5V1454.1H658.0V1455.7H664.5V1457.3H671.0V1458.9H677.5V1460.3H684.0V1461.6H690.5V1462.9H697.0V1464.2H703.5V1465.5H710.0V1466.8H716.5V1468.0H723.0V1468.9H729.5V1469.8H736.0V1470.8H742.5V1471.7H749.0V1473.0H755.6V1474.9H762.1V1476.8H768.6V1478.5H775.1V1479.5H781.6V1480.6H788.1V1481.6H794.6V1482.7H801.1V1483.7H807.6V1484.7H814.1V1487.1H820.6V1489.5H827.1V1492.0H833.6V1494.3H840.1V1495.1H846.6V1495.9H853.1V1496.7H859.6V1497.6H866.2V1498.4H872.7V1499.5H879.2V1500.8H885.7V1502.0H892.2V1503.3H898.7V1507.7H905.2V1508.9H911.7V1509.7H918.2V1510.6H919.6" fill="none" stroke="#ed7d31" stroke-width="5.4" stroke-linejoin="round" clip-path="url(#cc)"/>
<line x1="130.40" y1="1721.20" x2="137.30" y2="1721.20" stroke="#a6a6a6" stroke-width="1.8"/>
<line x1="130.40" y1="1678.20" x2="137.30" y2="1678.20" stroke="#a6a6a6" stroke-width="1.8"/>
<line x1="130.40" y1="1635.20" x2="137.30" y2="1635.20" stroke="#a6a6a6" stroke-width="1.8"/>
<line x1="130.40" y1="1592.20" x2="137.30" y2="1592.20" stroke="#a6a6a6" stroke-width="1.8"/>
<line x1="130.40" y1="1549.20" x2="137.30" y2="1549.20" stroke="#a6a6a6" stroke-width="1.8"/>
<line x1="130.40" y1="1506.20" x2="137.30" y2="1506.20" stroke="#a6a6a6" stroke-width="1.8"/>
<line x1="130.40" y1="1463.20" x2="137.30" y2="1463.20" stroke="#a6a6a6" stroke-width="1.8"/>
<line x1="130.40" y1="1420.20" x2="137.30" y2="1420.20" stroke="#a6a6a6" stroke-width="1.8"/>
<line x1="130.40" y1="1377.20" x2="137.30" y2="1377.20" stroke="#a6a6a6" stroke-width="1.8"/>
<line x1="130.40" y1="1334.20" x2="137.30" y2="1334.20" stroke="#a6a6a6" stroke-width="1.8"/>
<line x1="130.40" y1="1291.20" x2="137.30" y2="1291.20" stroke="#a6a6a6" stroke-width="1.8"/>
<line x1="137.30" y1="1290.40" x2="137.30" y2="1728.60" stroke="#a6a6a6" stroke-width="1.8"/>
<line x1="131.20" y1="1721.20" x2="919.00" y2="1721.20" stroke="#a6a6a6" stroke-width="1.8"/>
<line x1="176.53" y1="1721.20" x2="176.53" y2="1728.60" stroke="#a6a6a6" stroke-width="1.8"/>
<line x1="215.57" y1="1721.20" x2="215.57" y2="1728.60" stroke="#a6a6a6" stroke-width="1.8"/>
<line x1="254.61" y1="1721.20" x2="254.61" y2="1728.60" stroke="#a6a6a6" stroke-width="1.8"/>
<line x1="293.64" y1="1721.20" x2="293.64" y2="1728.60" stroke="#a6a6a6" stroke-width="1.8"/>
<line x1="332.68" y1="1721.20" x2="332.68" y2="1728.60" stroke="#a6a6a6" stroke-width="1.8"/>
<line x1="371.71" y1="1721.20" x2="371.71" y2="1728.60" stroke="#a6a6a6" stroke-width="1.8"/>
<line x1="410.75" y1="1721.20" x2="410.75" y2="1728.60" stroke="#a6a6a6" stroke-width="1.8"/>
<line x1="449.78" y1="1721.20" x2="449.78" y2="1728.60" stroke="#a6a6a6" stroke-width="1.8"/>
<line x1="488.81" y1="1721.20" x2="488.81" y2="1728.60" stroke="#a6a6a6" stroke-width="1.8"/>
<line x1="527.85" y1="1721.20" x2="527.85" y2="1728.60" stroke="#a6a6a6" stroke-width="1.8"/>
<line x1="566.88" y1="1721.20" x2="566.88" y2="1728.60" stroke="#a6a6a6" stroke-width="1.8"/>
<line x1="605.92" y1="1721.20" x2="605.92" y2="1728.60" stroke="#a6a6a6" stroke-width="1.8"/>
<line x1="644.96" y1="1721.20" x2="644.96" y2="1728.60" stroke="#a6a6a6" stroke-width="1.8"/>
<line x1="683.99" y1="1721.20" x2="683.99" y2="1728.60" stroke="#a6a6a6" stroke-width="1.8"/>
<line x1="723.02" y1="1721.20" x2="723.02" y2="1728.60" stroke="#a6a6a6" stroke-width="1.8"/>
<line x1="762.06" y1="1721.20" x2="762.06" y2="1728.60" stroke="#a6a6a6" stroke-width="1.8"/>
<line x1="801.10" y1="1721.20" x2="801.10" y2="1728.60" stroke="#a6a6a6" stroke-width="1.8"/>
<line x1="840.13" y1="1721.20" x2="840.13" y2="1728.60" stroke="#a6a6a6" stroke-width="1.8"/>
<line x1="879.17" y1="1721.20" x2="879.17" y2="1728.60" stroke="#a6a6a6" stroke-width="1.8"/>
<line x1="918.20" y1="1721.20" x2="918.20" y2="1728.60" stroke="#a6a6a6" stroke-width="1.8"/>
<rect x="474.00" y="1282.10" width="5.40" height="17.10" fill="#e2201e"/>
<rect x="473.84" y="1325.50" width="5.40" height="35.30" fill="#e2201e"/>
<rect x="473.66" y="1386.80" width="5.40" height="35.00" fill="#e2201e"/>
<rect x="473.47" y="1448.50" width="5.40" height="35.70" fill="#e2201e"/>
<rect x="473.29" y="1510.30" width="5.40" height="34.70" fill="#e2201e"/>
<rect x="472.74" y="1695.00" width="5.40" height="34.50" fill="#e2201e"/>
<text transform="translate(92.90,1341.00) scale(0.7641,1)" font-size="26.30" fill="#111" stroke="none">90</text>
<text transform="translate(92.90,1383.60) scale(0.7641,1)" font-size="26.30" fill="#111" stroke="none">80</text>
<text transform="translate(92.79,1426.70) scale(0.7679,1)" font-size="26.30" fill="#111" stroke="none">70</text>
<text transform="translate(92.79,1469.30) scale(0.7679,1)" font-size="26.30" fill="#111" stroke="none">60</text>
<text transform="translate(93.00,1512.40) scale(0.7605,1)" font-size="26.30" fill="#111" stroke="none">50</text>
<text transform="translate(93.41,1555.30) scale(0.7460,1)" font-size="26.30" fill="#111" stroke="none">40</text>
<text transform="translate(93.00,1598.20) scale(0.7605,1)" font-size="26.30" fill="#111" stroke="none">30</text>
<text transform="translate(92.79,1641.10) scale(0.7679,1)" font-size="26.30" fill="#111" stroke="none">20</text>
<text transform="translate(92.25,1684.00) scale(0.7871,1)" font-size="26.30" fill="#111" stroke="none">10</text>
<text transform="translate(89.60,1302.00) scale(0.7580,1)" font-size="26.30" fill="#111" stroke="none">100</text>
<text transform="translate(103.45,1727.50) scale(0.8080,1)" font-size="26.30" fill="#111" stroke="none">0</text>
<text transform="translate(132.49,1753.00) scale(0.7812,1)" font-size="23.80" fill="#111" stroke="none">0</text>
<text transform="translate(171.31,1753.00) scale(0.8064,1)" font-size="23.80" fill="#111" stroke="none">6</text>
<text transform="translate(206.05,1753.00) scale(0.7200,1)" font-size="23.80" fill="#111" stroke="none">12</text>
<text transform="translate(245.09,1753.00) scale(0.7127,1)" font-size="23.80" fill="#111" stroke="none">18</text>
<text transform="translate(283.52,1753.00) scale(0.7676,1)" font-size="23.80" fill="#111" stroke="none">24</text>
<text transform="translate(322.74,1753.00) scale(0.7639,1)" font-size="23.80" fill="#111" stroke="none">30</text>
<text transform="translate(361.77,1753.00) scale(0.7676,1)" font-size="23.80" fill="#111" stroke="none">36</text>
<text transform="translate(401.17,1753.00) scale(0.7603,1)" font-size="23.80" fill="#111" stroke="none">42</text>
<text transform="translate(440.21,1753.00) scale(0.7530,1)" font-size="23.80" fill="#111" stroke="none">48</text>
<text transform="translate(478.88,1753.00) scale(0.7603,1)" font-size="23.80" fill="#111" stroke="none">54</text>
<text transform="translate(517.72,1753.00) scale(0.7714,1)" font-size="23.80" fill="#111" stroke="none">60</text>
<text transform="translate(556.75,1753.00) scale(0.7752,1)" font-size="23.80" fill="#111" stroke="none">66</text>
<text transform="translate(595.78,1753.00) scale(0.7828,1)" font-size="23.80" fill="#111" stroke="none">72</text>
<text transform="translate(634.82,1753.00) scale(0.7752,1)" font-size="23.80" fill="#111" stroke="none">78</text>
<text transform="translate(673.96,1753.00) scale(0.7639,1)" font-size="23.80" fill="#111" stroke="none">84</text>
<text transform="translate(712.99,1753.00) scale(0.7676,1)" font-size="23.80" fill="#111" stroke="none">90</text>
<text transform="translate(752.02,1753.00) scale(0.7714,1)" font-size="23.80" fill="#111" stroke="none">96</text>
<text transform="translate(786.11,1753.00) scale(0.7304,1)" font-size="23.80" fill="#111" stroke="none">102</text>
<text transform="translate(825.15,1753.00) scale(0.7257,1)" font-size="23.80" fill="#111" stroke="none">108</text>
<text transform="translate(865.20,1753.00) scale(0.7002,1)" font-size="23.80" fill="#111" stroke="none">114</text>
<text transform="translate(903.22,1753.00) scale(0.7234,1)" font-size="23.80" fill="#111" stroke="none">120</text>
<text transform="translate(57.1,1528.9) rotate(-90)" y="0.00" font-size="27.80" fill="#111" stroke="none"><tspan x="-0.83" textLength="31.74" lengthAdjust="spacingAndGlyphs">ОВ,</tspan> <tspan x="37.87" textLength="16.05" lengthAdjust="spacingAndGlyphs">%</tspan></text>
<text transform="translate(36.87,1301.50) scale(0.8366,1)" font-size="33.00" fill="#111" stroke="#111" stroke-width="0.4" font-style="italic">c</text>
<text y="1321.10" font-size="27.20" fill="#e2231c" stroke="#e2231c" stroke-width="0.15"><tspan x="578.69" textLength="89.62" lengthAdjust="spacingAndGlyphs">Медиана</tspan> <tspan x="674.67" textLength="125.75" lengthAdjust="spacingAndGlyphs">наблюдения</tspan> <tspan x="805.95" textLength="12.28" lengthAdjust="spacingAndGlyphs">=</tspan> <tspan x="823.76" textLength="20.50" lengthAdjust="spacingAndGlyphs">52</tspan> <tspan x="851.99" textLength="37.52" lengthAdjust="spacingAndGlyphs">мес</tspan></text>
<text y="1789.90" font-size="27.50" fill="#111" stroke="none"><tspan x="290.41" textLength="63.64" lengthAdjust="spacingAndGlyphs">Время</tspan> <tspan x="360.42" textLength="121.45" lengthAdjust="spacingAndGlyphs">наблюдения</tspan> <tspan x="488.04" textLength="18.78" lengthAdjust="spacingAndGlyphs">от</tspan> <tspan x="513.42" textLength="118.28" lengthAdjust="spacingAndGlyphs">постановки</tspan> <tspan x="635.38" textLength="99.69" lengthAdjust="spacingAndGlyphs">диагноза,</tspan> <tspan x="739.29" textLength="35.19" lengthAdjust="spacingAndGlyphs">мес</tspan></text>
<line x1="222.79999999999998" y1="1825.3" x2="258.90000000000003" y2="1825.3" stroke="#bfbfbd" stroke-width="5.5" stroke-linecap="round"/>
<line x1="488.59999999999997" y1="1825.3" x2="524.0" y2="1825.3" stroke="#636363" stroke-width="5.5" stroke-linecap="round"/>
<line x1="222.79999999999998" y1="1863.6" x2="258.90000000000003" y2="1863.6" stroke="#5b9bd5" stroke-width="5.5" stroke-linecap="round"/>
<line x1="488.59999999999997" y1="1863.6" x2="524.0" y2="1863.6" stroke="#ed7d31" stroke-width="5.5" stroke-linecap="round"/>
<text y="1831.60" font-size="26.80" fill="#111" stroke="none"><tspan x="268.74" textLength="116.77" lengthAdjust="spacingAndGlyphs">Ожидаемая</tspan> <tspan x="391.00" textLength="80.62" lengthAdjust="spacingAndGlyphs">(n=5771)</tspan></text>
<text y="1831.60" font-size="26.80" fill="#111" stroke="none"><tspan x="532.96" textLength="135.45" lengthAdjust="spacingAndGlyphs">Наблюдаемая</tspan> <tspan x="674.78" textLength="82.27" lengthAdjust="spacingAndGlyphs">(n=5771)</tspan></text>
<text y="1870.60" font-size="26.80" fill="#111" stroke="none"><tspan x="267.86" textLength="95.04" lengthAdjust="spacingAndGlyphs">Мужчины</tspan> <tspan x="368.25" textLength="83.71" lengthAdjust="spacingAndGlyphs">(n=3018)</tspan></text>
<text y="1870.60" font-size="26.80" fill="#111" stroke="none"><tspan x="533.28" textLength="100.56" lengthAdjust="spacingAndGlyphs">Женщины</tspan> <tspan x="639.87" textLength="82.58" lengthAdjust="spacingAndGlyphs">(n=2753)</tspan></text>
<rect x="155.30" y="1523.00" width="349.20" height="181.35" fill="#ffffff"/>
<rect x="213.50" y="1523.00" width="58.20" height="141.05" fill="#c4d79b"/>
<rect x="271.70" y="1523.00" width="58.20" height="141.05" fill="#bfbfbf"/>
<rect x="329.90" y="1523.00" width="58.20" height="141.05" fill="#8db3e2"/>
<rect x="388.10" y="1523.00" width="58.20" height="141.05" fill="#e6b8b7"/>
<line x1="154.80" y1="1523.00" x2="505.00" y2="1523.00" stroke="#1a1a1a" stroke-width="1.05"/>
<line x1="154.80" y1="1543.15" x2="505.00" y2="1543.15" stroke="#1a1a1a" stroke-width="1.05"/>
<line x1="154.80" y1="1563.30" x2="505.00" y2="1563.30" stroke="#1a1a1a" stroke-width="1.05"/>
<line x1="154.80" y1="1583.45" x2="505.00" y2="1583.45" stroke="#1a1a1a" stroke-width="1.05"/>
<line x1="154.80" y1="1603.60" x2="505.00" y2="1603.60" stroke="#1a1a1a" stroke-width="1.05"/>
<line x1="154.80" y1="1623.75" x2="505.00" y2="1623.75" stroke="#1a1a1a" stroke-width="1.05"/>
<line x1="154.80" y1="1643.90" x2="505.00" y2="1643.90" stroke="#1a1a1a" stroke-width="1.05"/>
<line x1="154.80" y1="1664.05" x2="505.00" y2="1664.05" stroke="#1a1a1a" stroke-width="1.05"/>
<line x1="154.80" y1="1684.20" x2="505.00" y2="1684.20" stroke="#1a1a1a" stroke-width="1.05"/>
<line x1="154.80" y1="1704.35" x2="505.00" y2="1704.35" stroke="#1a1a1a" stroke-width="1.05"/>
<line x1="155.30" y1="1523.00" x2="155.30" y2="1704.35" stroke="#1a1a1a" stroke-width="1.05"/>
<line x1="213.50" y1="1523.00" x2="213.50" y2="1704.35" stroke="#1a1a1a" stroke-width="1.05"/>
<line x1="271.70" y1="1523.00" x2="271.70" y2="1684.20" stroke="#1a1a1a" stroke-width="1.05"/>
<line x1="329.90" y1="1523.00" x2="329.90" y2="1704.35" stroke="#1a1a1a" stroke-width="1.05"/>
<line x1="388.10" y1="1523.00" x2="388.10" y2="1684.20" stroke="#1a1a1a" stroke-width="1.05"/>
<line x1="446.30" y1="1523.00" x2="446.30" y2="1704.35" stroke="#1a1a1a" stroke-width="1.05"/>
<line x1="504.50" y1="1523.00" x2="504.50" y2="1704.35" stroke="#1a1a1a" stroke-width="1.05"/>
<text transform="translate(160.70,1538.00) scale(0.7400,1)" font-size="14.00" text-anchor="start" fill="#111" stroke="#111" stroke-width="0.10">Время</text>
<text transform="translate(242.60,1538.00) scale(0.7400,1)" font-size="14.00" text-anchor="middle" fill="#111" stroke="#111" stroke-width="0.10">ООВ,%</text>
<text transform="translate(300.80,1538.00) scale(0.7400,1)" font-size="14.00" text-anchor="middle" fill="#111" stroke="#111" stroke-width="0.10">ОВ,%</text>
<text transform="translate(359.00,1538.00) scale(0.7400,1)" font-size="14.00" text-anchor="middle" fill="#111" stroke="#111" stroke-width="0.10">ОВ муж,%</text>
<text transform="translate(417.20,1538.00) scale(0.7400,1)" font-size="14.00" text-anchor="middle" fill="#111" stroke="#111" stroke-width="0.10">ОВ жен.,%</text>
<text transform="translate(475.40,1538.00) scale(0.7400,1)" font-size="14.00" text-anchor="middle" fill="#111" stroke="#111" stroke-width="0.10">RSR,%</text>
<text transform="translate(160.70,1558.15) scale(0.7400,1)" font-size="14.00" text-anchor="start" fill="#111" stroke="#111" stroke-width="0.10">12 мес</text>
<text transform="translate(242.60,1558.15) scale(0.7400,1)" font-size="14.00" text-anchor="middle" fill="#111" stroke="#111" stroke-width="0.10">96</text>
<text transform="translate(300.80,1558.15) scale(0.7400,1)" font-size="14.00" text-anchor="middle" fill="#111" stroke="#111" stroke-width="0.10">94</text>
<text transform="translate(359.00,1558.15) scale(0.7400,1)" font-size="14.00" text-anchor="middle" fill="#111" stroke="#111" stroke-width="0.10">93</text>
<text transform="translate(417.20,1558.15) scale(0.7400,1)" font-size="14.00" text-anchor="middle" fill="#111" stroke="#111" stroke-width="0.10">95</text>
<text transform="translate(475.40,1558.15) scale(0.7400,1)" font-size="14.00" text-anchor="middle" fill="#111" stroke="#111" stroke-width="0.10">98</text>
<text transform="translate(160.70,1578.30) scale(0.7400,1)" font-size="14.00" text-anchor="start" fill="#111" stroke="#111" stroke-width="0.10">24 мес</text>
<text transform="translate(242.60,1578.30) scale(0.7400,1)" font-size="14.00" text-anchor="middle" fill="#111" stroke="#111" stroke-width="0.10">92</text>
<text transform="translate(300.80,1578.30) scale(0.7400,1)" font-size="14.00" text-anchor="middle" fill="#111" stroke="#111" stroke-width="0.10">87</text>
<text transform="translate(359.00,1578.30) scale(0.7400,1)" font-size="14.00" text-anchor="middle" fill="#111" stroke="#111" stroke-width="0.10">85</text>
<text transform="translate(417.20,1578.30) scale(0.7400,1)" font-size="14.00" text-anchor="middle" fill="#111" stroke="#111" stroke-width="0.10">89</text>
<text transform="translate(475.40,1578.30) scale(0.7400,1)" font-size="14.00" text-anchor="middle" fill="#111" stroke="#111" stroke-width="0.10">94</text>
<text transform="translate(160.70,1598.45) scale(0.7400,1)" font-size="14.00" text-anchor="start" fill="#111" stroke="#111" stroke-width="0.10">36 мес</text>
<text transform="translate(242.60,1598.45) scale(0.7400,1)" font-size="14.00" text-anchor="middle" fill="#111" stroke="#111" stroke-width="0.10">88</text>
<text transform="translate(300.80,1598.45) scale(0.7400,1)" font-size="14.00" text-anchor="middle" fill="#111" stroke="#111" stroke-width="0.10">80</text>
<text transform="translate(359.00,1598.45) scale(0.7400,1)" font-size="14.00" text-anchor="middle" fill="#111" stroke="#111" stroke-width="0.10">77</text>
<text transform="translate(417.20,1598.45) scale(0.7400,1)" font-size="14.00" text-anchor="middle" fill="#111" stroke="#111" stroke-width="0.10">83</text>
<text transform="translate(475.40,1598.45) scale(0.7400,1)" font-size="14.00" text-anchor="middle" fill="#111" stroke="#111" stroke-width="0.10">91</text>
<text transform="translate(160.70,1618.60) scale(0.7400,1)" font-size="14.00" text-anchor="start" fill="#111" stroke="#111" stroke-width="0.10">48 мес</text>
<text transform="translate(242.60,1618.60) scale(0.7400,1)" font-size="14.00" text-anchor="middle" fill="#111" stroke="#111" stroke-width="0.10">83</text>
<text transform="translate(300.80,1618.60) scale(0.7400,1)" font-size="14.00" text-anchor="middle" fill="#111" stroke="#111" stroke-width="0.10">71</text>
<text transform="translate(359.00,1618.60) scale(0.7400,1)" font-size="14.00" text-anchor="middle" fill="#111" stroke="#111" stroke-width="0.10">68</text>
<text transform="translate(417.20,1618.60) scale(0.7400,1)" font-size="14.00" text-anchor="middle" fill="#111" stroke="#111" stroke-width="0.10">74</text>
<text transform="translate(475.40,1618.60) scale(0.7400,1)" font-size="14.00" text-anchor="middle" fill="#111" stroke="#111" stroke-width="0.10">85</text>
<text transform="translate(160.70,1638.75) scale(0.7400,1)" font-size="14.00" text-anchor="start" fill="#111" stroke="#111" stroke-width="0.10">60 мес</text>
<text transform="translate(242.60,1638.75) scale(0.7400,1)" font-size="14.00" text-anchor="middle" fill="#111" stroke="#111" stroke-width="0.10">79</text>
<text transform="translate(300.80,1638.75) scale(0.7400,1)" font-size="14.00" text-anchor="middle" fill="#111" stroke="#111" stroke-width="0.10">64</text>
<text transform="translate(359.00,1638.75) scale(0.7400,1)" font-size="14.00" text-anchor="middle" fill="#111" stroke="#111" stroke-width="0.10">60</text>
<text transform="translate(417.20,1638.75) scale(0.7400,1)" font-size="14.00" text-anchor="middle" fill="#111" stroke="#111" stroke-width="0.10">67</text>
<text transform="translate(475.40,1638.75) scale(0.7400,1)" font-size="14.00" text-anchor="middle" fill="#111" stroke="#111" stroke-width="0.10">81</text>
<text transform="translate(160.70,1658.90) scale(0.7400,1)" font-size="14.00" text-anchor="start" fill="#111" stroke="#111" stroke-width="0.10">120 мес</text>
<text transform="translate(242.60,1658.90) scale(0.7400,1)" font-size="14.00" text-anchor="middle" fill="#111" stroke="#111" stroke-width="0.10">58</text>
<text transform="translate(300.80,1658.90) scale(0.7400,1)" font-size="14.00" text-anchor="middle" fill="#111" stroke="#111" stroke-width="0.10">38</text>
<text transform="translate(359.00,1658.90) scale(0.7400,1)" font-size="14.00" text-anchor="middle" fill="#111" stroke="#111" stroke-width="0.10">33</text>
<text transform="translate(417.20,1658.90) scale(0.7400,1)" font-size="14.00" text-anchor="middle" fill="#111" stroke="#111" stroke-width="0.10">44</text>
<text transform="translate(475.40,1658.90) scale(0.7400,1)" font-size="14.00" text-anchor="middle" fill="#111" stroke="#111" stroke-width="0.10">66</text>
<text transform="translate(160.70,1679.05) scale(0.7400,1)" font-size="14.00" text-anchor="start" fill="#111" stroke="#111" stroke-width="0.10">Ме, мес</text>
<text transform="translate(242.60,1679.05) scale(0.7400,1)" font-size="14.00" text-anchor="middle" fill="#111" stroke="#111" stroke-width="0.10">&gt;120</text>
<text transform="translate(300.80,1679.05) scale(0.7400,1)" font-size="14.00" text-anchor="middle" fill="#111" stroke="#111" stroke-width="0.10">85</text>
<text transform="translate(359.00,1679.05) scale(0.7400,1)" font-size="14.00" text-anchor="middle" fill="#111" stroke="#111" stroke-width="0.10">71</text>
<text transform="translate(417.20,1679.05) scale(0.7400,1)" font-size="14.00" text-anchor="middle" fill="#111" stroke="#111" stroke-width="0.10">94</text>
<text transform="translate(475.40,1679.05) scale(0.7400,1)" font-size="14.00" text-anchor="middle" fill="#111" stroke="#111" stroke-width="0.10">&gt;120</text>
<text transform="translate(160.70,1699.20) scale(0.74,1)" font-size="14.0" fill="#111" stroke="#111" stroke-width="0.10"><tspan font-style="italic">p</tspan>-value</text>
<text transform="translate(271.70,1699.20) scale(0.7400,1)" font-size="14.00" text-anchor="middle" fill="#111" stroke="#111" stroke-width="0.10">0,0000000</text>
<text transform="translate(388.10,1699.20) scale(0.7400,1)" font-size="14.00" text-anchor="middle" fill="#111" stroke="#111" stroke-width="0.10">0,0000000</text>
</svg>
</body></html>
